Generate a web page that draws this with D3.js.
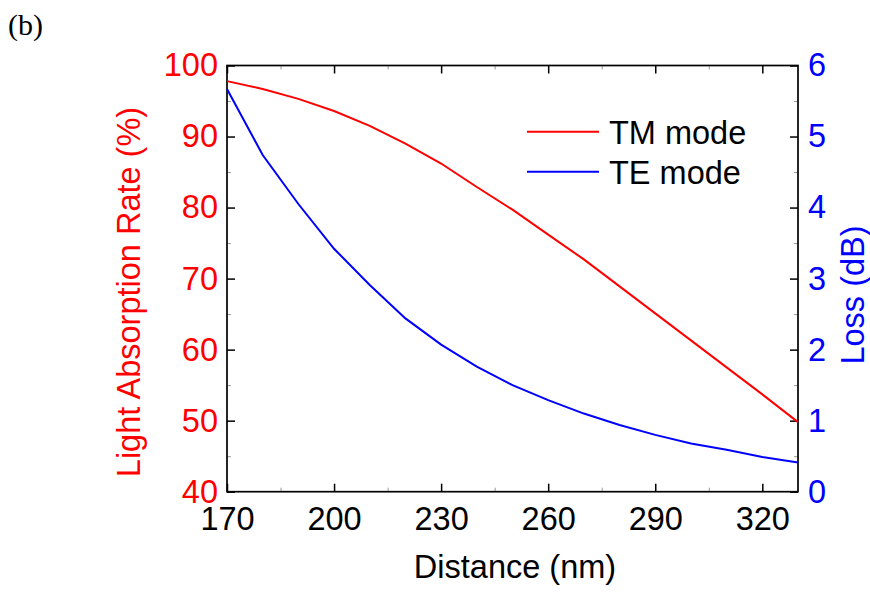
<!DOCTYPE html>
<html>
<head>
<meta charset="utf-8">
<script src="https://cdn.jsdelivr.net/npm/d3@7"></script>
<style>
  body { margin: 0; background: #fff; }
  svg { display: block; font-family: "Liberation Sans", Arial, sans-serif; }
</style>
</head>
<body>
<svg id="chart" width="870" height="592"></svg>
<script>
// Distance sweep (nm)
const distance = [170, 180, 190, 200, 210, 220, 230, 240, 250, 260, 270, 280, 290, 300, 310, 320, 330];
// TM mode: light absorption rate (%), left axis
const tmAbsorption = [97.8, 96.7, 95.3, 93.6, 91.5, 89.0, 86.2, 82.9, 79.7, 76.2, 72.7, 68.9, 65.1, 61.3, 57.5, 53.7, 49.8];
// TE mode: loss (dB), right axis
const teLoss = [5.67, 4.74, 4.05, 3.42, 2.91, 2.44, 2.07, 1.76, 1.50, 1.29, 1.10, 0.94, 0.80, 0.68, 0.59, 0.49, 0.41];

const xTicks = [170, 200, 230, 260, 290, 320];
const xMinorTicks = [185, 215, 245, 275, 305];
const leftTicks = [40, 50, 60, 70, 80, 90, 100];
const leftMinorTicks = [45, 55, 65, 75, 85, 95];
const rightTicks = [0, 1, 2, 3, 4, 5, 6];
const rightMinorTicks = [0.5, 1.5, 2.5, 3.5, 4.5, 5.5];

const legendItems = [
  { label: "TM mode", color: "#ff0000" },
  { label: "TE mode", color: "#0000ff" }
];

const plot = { left: 227, right: 798, top: 65.5, bottom: 491.7 };
const fontSize = 32.5;

const svg = d3.select("#chart");

const x = d3.scaleLinear().domain([170, 330]).range([plot.left, plot.right]);
const yL = d3.scaleLinear().domain([40, 100]).range([plot.bottom, plot.top]);
const yR = d3.scaleLinear().domain([0, 6]).range([plot.bottom, plot.top]);

function styleAxis(g, color, showLabels) {
  g.select(".domain").remove();
  g.selectAll(".tick line").attr("stroke", "#000").attr("stroke-width", 1.5);
  g.selectAll(".tick text")
    .attr("fill", color)
    .style("font-size", fontSize + "px")
    .style("font-family", "'Liberation Sans', Arial, sans-serif");
  if (!showLabels) g.selectAll(".tick text").remove();
}

function minor(g) {
  g.select(".domain").remove();
  g.selectAll(".tick text").remove();
  g.selectAll(".tick line").attr("stroke", "#999").attr("stroke-width", 1);
}

// Bottom axis (ticks inward)
svg.append("g").attr("transform", `translate(0,${plot.bottom})`)
  .call(d3.axisBottom(x).tickValues(xTicks).tickSizeInner(-8).tickSizeOuter(0).tickPadding(15).tickFormat(d3.format("d")))
  .call(g => styleAxis(g, "#000", true));
svg.append("g").attr("transform", `translate(0,${plot.bottom})`)
  .call(d3.axisBottom(x).tickValues(xMinorTicks).tickSizeInner(-4).tickSizeOuter(0))
  .call(minor);

// Top axis (ticks only)
svg.append("g").attr("transform", `translate(0,${plot.top})`)
  .call(d3.axisTop(x).tickValues(xTicks).tickSizeInner(-8).tickSizeOuter(0))
  .call(g => styleAxis(g, "#000", false));
svg.append("g").attr("transform", `translate(0,${plot.top})`)
  .call(d3.axisTop(x).tickValues(xMinorTicks).tickSizeInner(-4).tickSizeOuter(0))
  .call(minor);

// Left axis: absorption rate
svg.append("g").attr("transform", `translate(${plot.left},0)`)
  .call(d3.axisLeft(yL).tickValues(leftTicks).tickSizeInner(-8).tickSizeOuter(0).tickPadding(9).tickFormat(d3.format("d")))
  .call(g => styleAxis(g, "#ff0000", true));
svg.append("g").attr("transform", `translate(${plot.left},0)`)
  .call(d3.axisLeft(yL).tickValues(leftMinorTicks).tickSizeInner(-4).tickSizeOuter(0))
  .call(minor);

// Right axis: loss
svg.append("g").attr("transform", `translate(${plot.right},0)`)
  .call(d3.axisRight(yR).tickValues(rightTicks).tickSizeInner(-8).tickSizeOuter(0).tickPadding(10).tickFormat(d3.format("d")))
  .call(g => styleAxis(g, "#0000ff", true));
svg.append("g").attr("transform", `translate(${plot.right},0)`)
  .call(d3.axisRight(yR).tickValues(rightMinorTicks).tickSizeInner(-4).tickSizeOuter(0))
  .call(minor);

// Plot frame
svg.append("rect")
  .attr("x", plot.left).attr("y", plot.top)
  .attr("width", plot.right - plot.left).attr("height", plot.bottom - plot.top)
  .attr("fill", "none").attr("stroke", "#000").attr("stroke-width", 1.7);

// Curves
const tmLine = d3.line().x((d, i) => x(distance[i])).y(d => yL(d));
const teLine = d3.line().x((d, i) => x(distance[i])).y(d => yR(d));

svg.append("path").datum(tmAbsorption)
  .attr("d", tmLine).attr("fill", "none").attr("stroke", "#ff0000").attr("stroke-width", 2);
svg.append("path").datum(teLoss)
  .attr("d", teLine).attr("fill", "none").attr("stroke", "#0000ff").attr("stroke-width", 2);

// Legend
const legend = svg.append("g");
legendItems.forEach((item, i) => {
  const cy = 131.7 + i * 40;
  legend.append("line")
    .attr("x1", 527).attr("x2", 599).attr("y1", cy).attr("y2", cy)
    .attr("stroke", item.color).attr("stroke-width", 2);
  legend.append("text")
    .attr("x", 609).attr("y", cy + 12)
    .style("font-size", fontSize + "px")
    .attr("fill", "#000")
    .text(item.label);
});

// Axis titles
svg.append("text")
  .attr("transform", `translate(140,292) rotate(-90)`)
  .attr("text-anchor", "middle")
  .attr("fill", "#ff0000")
  .style("font-size", fontSize + "px")
  .text("Light Absorption Rate (%)");

svg.append("text")
  .attr("transform", `translate(864,295) rotate(-90)`)
  .attr("text-anchor", "middle")
  .attr("fill", "#0000ff")
  .style("font-size", fontSize + "px")
  .text("Loss (dB)");

svg.append("text")
  .attr("x", 515).attr("y", 578)
  .attr("text-anchor", "middle")
  .attr("fill", "#000")
  .style("font-size", fontSize + "px")
  .text("Distance (nm)");

// Panel label
svg.append("text")
  .attr("x", 8).attr("y", 35)
  .style("font-family", "'Liberation Serif', 'Times New Roman', serif")
  .style("font-size", "30px")
  .attr("fill", "#000")
  .text("(b)");
</script>
</body>
</html>
